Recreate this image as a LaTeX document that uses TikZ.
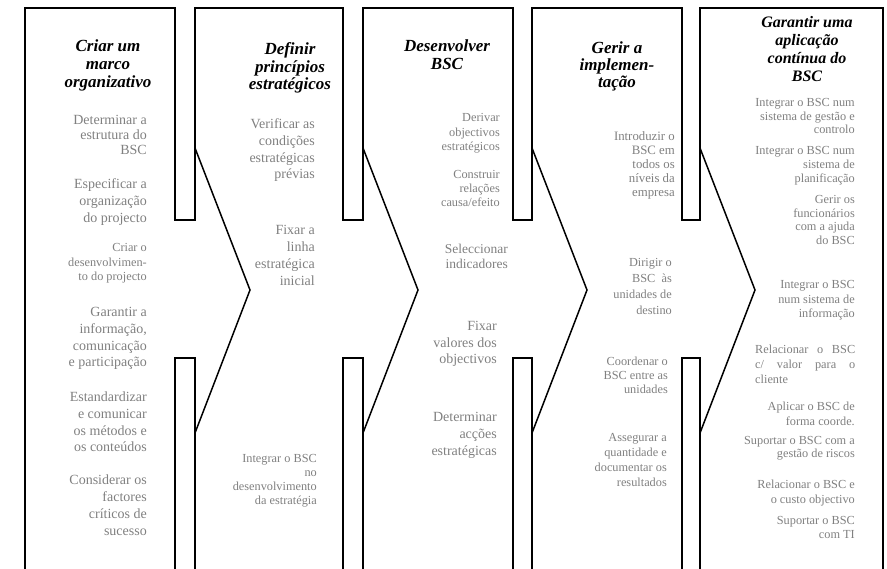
\documentclass[tikz,border=0pt]{standalone}
\usepackage{fontspec}
\setmainfont{Liberation Serif}
% text sizes: #1 = font size, #2 = line distance (both in pt)
\newcommand{\headsize}[2]{\fontsize{#1}{#2}\selectfont\bfseries\itshape}
\newcommand{\tasksize}[2]{\fontsize{#1}{#2}\selectfont}
\begin{document}
\begin{tikzpicture}[x=1pt,y=-1pt,
  frame/.style={line width=1.5pt, line join=miter, line cap=butt},
  % multi-line nodes are placed by the baseline of their last line
  heading/.style={font=\headsize{17}{#1}, align=center, anchor=base, inner sep=0pt},
  heading/.default=18,
  task/.style={text=black!50, align=right, anchor=base east, inner sep=0pt, font=\tasksize{14}{#1}},
  task/.default=16.8,
  minor/.style={text=black!50, align=right, anchor=base east, inner sep=0pt, font=\tasksize{12.3}{#1}},
  minor/.default=14.5,
]
\useasboundingbox (0,0) rectangle (887,569);

% outer frame with the top strips between the phases
\draw[frame] (25,569) -- (25,8) -- (175,8) -- (175,220) -- (195,220) -- (195,8)
  -- (343,8) -- (343,220) -- (363,220) -- (363,8)
  -- (513,8) -- (513,220) -- (532,220) -- (532,8)
  -- (682,8) -- (682,220) -- (700,220) -- (700,8)
  -- (883,8) -- (883,569);

% chevrons pointing into the next phase
\foreach \xb in {195,363,532,700}{
  \draw[frame] (\xb,148) -- ({\xb+55},290) -- (\xb,433);
}

% bottom strips between the phases
\foreach \xa/\xb in {175/195,343/363,513/532,682/700}{
  \draw[frame] (\xa,569) -- (\xa,358) -- (\xb,358) -- (\xb,569);
}

% phase 1
\node[heading] (h1) at (108,88) {Criar um\\marco\\organizativo};
\node[task=15] (a1) at (147,155) {Determinar a\\estrutura do\\BSC};
\node[task=17] (a2) at (147,223) {Especificar a\\organização\\do projecto};
\node[minor] (a3) at (147,281) {Criar o\\desenvolvimen-\\to do projecto};
\node[task=16.7] (a4) at (147,367) {Garantir a\\informação,\\comunicação\\e participação};
\node[task=16.7] (a5) at (147,452) {Estandardizar\\e comunicar\\os métodos e\\os conteúdos};
\node[task=17] (a6) at (147,535) {Considerar os\\factores\\críticos de\\sucesso};

% phase 2
\node[heading=17.5] (h2) at (290,90) {Definir\\princípios\\estratégicos};
\node[task=16.7] (b1) at (315,179) {Verificar as\\condições\\estratégicas\\prévias};
\node[task=17.3] (b2) at (315,286) {Fixar a\\linha\\estratégica\\inicial};
\node[minor=14] (b3) at (317,504) {Integrar o BSC\\no\\desenvolvimento\\da estratégia};

% phase 3
\node[heading] (h3) at (447,70) {Desenvolver\\BSC};
\node[minor] (c1) at (500,151) {Derivar\\objectivos\\estratégicos};
\node[minor=14] (c2) at (500,207) {Construir\\relações\\causa/efeito};
\node[task, font=\tasksize{13.5}{15}] (c3) at (508,269) {Seleccionar\\indicadores};
\node[task=16.5] (c4) at (497,364) {Fixar\\valores dos\\objectivos};
\node[task=17.5] (c5) at (497,456) {Determinar\\acções\\estratégicas};

% phase 4
\node[heading=17] (h4) at (617,88) {Gerir a\\implemen-\\tação};
\node[minor, font=\tasksize{12.8}{14}] (d1) at (675,197) {Introduzir o\\BSC em\\todos os\\níveis da\\empresa};
\node[minor=16] (d2) at (672,315) {Dirigir o\\BSC\ \ às\\unidades de\\destino};
\node[minor=14] (d3) at (668,394) {Coordenar o\\BSC entre as\\unidades};
\node[minor=15] (d4) at (667,486) {Assegurar a\\quantidade e\\documentar os\\resultados};

% phase 5
\node[heading, font=\headsize{16}{18}] (h5) at (807,82) {Garantir uma\\aplicação\\contínua do\\BSC};
\node[minor=13.5] (e1) at (855,134) {Integrar o BSC num\\sistema de gestão e\\controlo};
\node[minor=14] (e2) at (855,183) {Integrar o BSC num\\sistema de\\planificação};
\node[minor=13.5] (e3) at (855,244.5) {Gerir os\\funcionários\\com a ajuda\\do BSC};
\node[minor] (e4) at (855,318) {Integrar o BSC\\num sistema de\\informação};
\node[minor=15, align=left, anchor=base west] (e5) at (755,384)
  {\makebox[100pt][s]{Relacionar o BSC}\\\makebox[100pt][s]{c/ valor para o}\\cliente};
\node[minor=15] (e6) at (855,426) {Aplicar o BSC de\\forma coorde.};
\node[minor=12.5] (e7) at (855,457) {Suportar o BSC com a\\gestão de riscos};
\node[minor=14] (e8) at (855,503) {Relacionar o BSC e\\o custo objectivo};
\node[minor=14] (e9) at (855,538) {Suportar o BSC\\com TI};
\end{tikzpicture}
\end{document}
